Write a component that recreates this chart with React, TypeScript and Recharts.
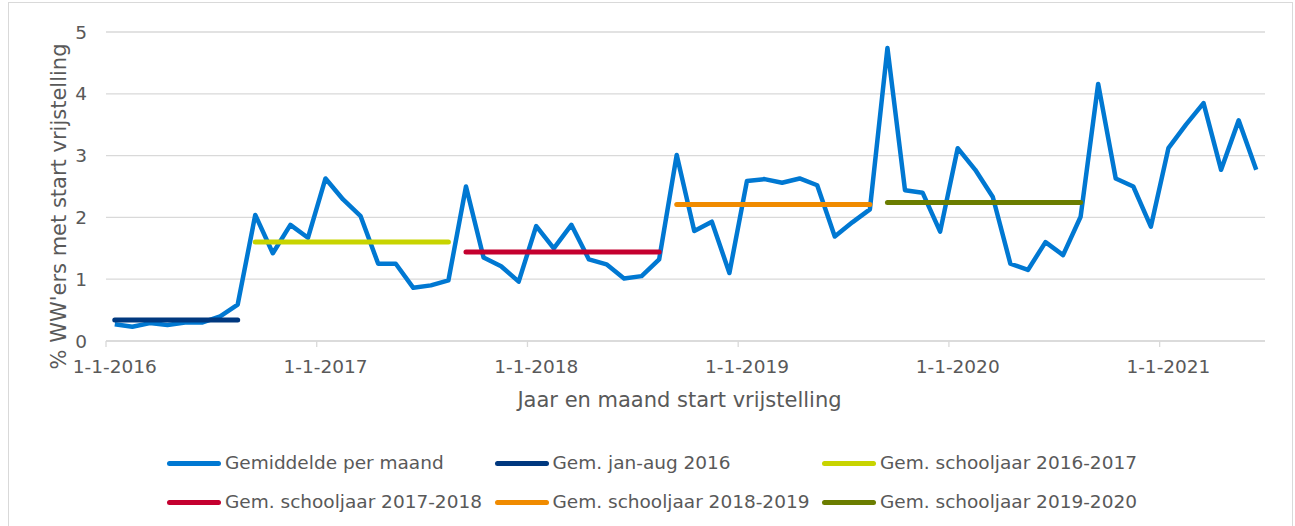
import React from "react";
import { CartesianGrid, Legend, Line, LineChart, XAxis, YAxis } from "recharts";

const W = 1295;
const H = 526;
const FONT = "Verdana, 'DejaVu Sans', sans-serif";
const TEXT = "#595959";
const GRID = "#d9d9d9";

// Jan 2016 .. Jun 2021, one value per month
const MONTHLY = [
  0.27, 0.23, 0.29, 0.26, 0.3, 0.3, 0.4, 0.59,
  2.04, 1.42, 1.88, 1.67,
  2.63, 2.29, 2.02, 1.25, 1.25, 0.86, 0.9, 0.98,
  2.5, 1.35, 1.21, 0.96,
  1.86, 1.5, 1.88, 1.32, 1.24, 1.01, 1.05, 1.32,
  3.01, 1.78, 1.93, 1.1,
  2.59, 2.62, 2.56, 2.63, 2.52, 1.69, 1.92, 2.13,
  4.74, 2.44, 2.4, 1.77,
  3.12, 2.77, 2.33, 1.25, 1.15, 1.6, 1.39, 2.01,
  4.16, 2.63, 2.5, 1.85,
  3.12, 3.5, 3.85, 2.77, 3.57, 2.77,
];

const AVG_NAMES = [
  "Gem. jan-aug 2016",
  "Gem. schooljaar 2016-2017",
  "Gem. schooljaar 2017-2018",
  "Gem. schooljaar 2018-2019",
  "Gem. schooljaar 2019-2020",
];
const AVG_VALUES = [0.34, 1.6, 1.44, 2.21, 2.24];
// first and last month index of each period
const AVG_FROM = [0, 8, 20, 32, 44];
const AVG_TO = [7, 19, 31, 43, 55];
const AVG_COLORS = ["#00387f", "#c8d400", "#c4002f", "#f08b00", "#6b7d00"];

const BLUE = "#0078d2";
const MONTHLY_NAME = "Gemiddelde per maand";

const X_TICKS = [0, 12, 24, 36, 48, 60];
const X_TICK_LABELS = ["1-1-2016", "1-1-2017", "1-1-2018", "1-1-2019", "1-1-2020", "1-1-2021"];
const Y_TICKS = [0, 1, 2, 3, 4, 5];

const M = { top: 32, right: 30, left: 10, bottom: 5 };
const Y_W = 96;
const X_H = 60;
const LEG_H = 120;
const PLOT_W = W - M.left - M.right - Y_W;

const rows = MONTHLY.map((v, i) => {
  const r: Record<string, number | null> = { x: i + 0.5, monthly: v };
  AVG_VALUES.forEach((a, k) => {
    r["avg" + k] = i >= AVG_FROM[k] && i <= AVG_TO[k] ? a : null;
  });
  return r;
});

const legendItems = [
  { name: MONTHLY_NAME, color: BLUE },
  ...AVG_NAMES.map((n, k) => ({ name: n, color: AVG_COLORS[k] })),
];

function XTick(props: any) {
  const { x, y, payload, index } = props;
  const half = PLOT_W / MONTHLY.length / 2;
  return (
    <text x={x + half} y={y} dy="0.71em" textAnchor="middle" fill={TEXT} fontSize={18.5} fontFamily={FONT}>
      {X_TICK_LABELS[index] ?? payload.value}
    </text>
  );
}

function LegendBox() {
  return (
    <div style={{ position: "relative", width: W, height: LEG_H, fontFamily: FONT, fontSize: 18.5, color: TEXT }}>
      {legendItems.map((it, i) => (
        <div
          key={it.name}
          style={{
            position: "absolute",
            left: 167 + (i % 3) * 327.5,
            top: 51 + Math.floor(i / 3) * 39,
            height: 22,
            display: "flex",
            alignItems: "center",
            whiteSpace: "nowrap",
          }}
        >
          <span style={{ display: "inline-block", width: 54, height: 5, borderRadius: 3, background: it.color, marginRight: 4 }} />
          <span style={{ lineHeight: "22px" }}>{it.name}</span>
        </div>
      ))}
    </div>
  );
}

export default function App() {
  return (
    <div style={{ position: "absolute", left: 0, top: 0, width: W, height: H, overflow: "hidden", background: "#fff" }}>
      <div
        style={{
          position: "absolute",
          left: 8,
          top: 2,
          width: W - 10,
          height: H + 40,
          border: `1.5px solid ${GRID}`,
          boxSizing: "border-box",
        }}
      />
      <div style={{ position: "absolute", left: 0, top: 0 }}>
        <LineChart width={W} height={H} data={rows} margin={M}>
          <CartesianGrid stroke={GRID} strokeWidth={1.3} vertical={false} />
          <XAxis
            dataKey="x"
            type="number"
            domain={[0, MONTHLY.length]}
            ticks={X_TICKS}
            height={X_H}
            interval={0}
            tick={<XTick />}
            tickSize={6}
            tickMargin={13}
            tickLine={{ stroke: GRID, strokeWidth: 1.3 }}
            axisLine={{ stroke: GRID, strokeWidth: 1.3 }}
            label={{
              content: (p: any) => {
                const vb = p.viewBox;
                return (
                  <text
                    x={vb.x + vb.width / 2 - 6}
                    y={vb.y + 59}
                    textAnchor="middle"
                    dominantBaseline="central"
                    fill={TEXT}
                    fontSize={21}
                    fontFamily={FONT}
                  >
                    Jaar en maand start vrijstelling
                  </text>
                );
              },
            }}
          />
          <YAxis
            type="number"
            domain={[0, 5]}
            ticks={Y_TICKS}
            width={Y_W}
            axisLine={false}
            tickLine={false}
            tickSize={0}
            tickMargin={19}
            tick={{ fill: TEXT, fontSize: 18.5, fontFamily: FONT }}
            label={{
              content: (p: any) => {
                const vb = p.viewBox;
                const cx = 59;
                const cy = vb.y + vb.height / 2 + 20;
                return (
                  <text
                    x={cx}
                    y={cy}
                    transform={`rotate(-90 ${cx} ${cy})`}
                    textAnchor="middle"
                    dominantBaseline="central"
                    fill={TEXT}
                    fontSize={21}
                    fontFamily={FONT}
                  >
                    % WW'ers met start vrijstelling
                  </text>
                );
              },
            }}
          />
          <Legend verticalAlign="bottom" content={<LegendBox />} wrapperStyle={{ left: 0, width: W, height: LEG_H }} />
          <Line
            dataKey="monthly"
            name={MONTHLY_NAME}
            stroke={BLUE}
            strokeWidth={4.5}
            strokeLinejoin="round"
            dot={false}
            activeDot={false}
            isAnimationActive={false}
          />
          {AVG_NAMES.map((n, k) => (
            <Line
              key={n}
              dataKey={"avg" + k}
              name={n}
              stroke={AVG_COLORS[k]}
              strokeWidth={5}
              strokeLinecap="round"
              dot={false}
              activeDot={false}
              connectNulls={false}
              isAnimationActive={false}
            />
          ))}
        </LineChart>
      </div>
    </div>
  );
}
